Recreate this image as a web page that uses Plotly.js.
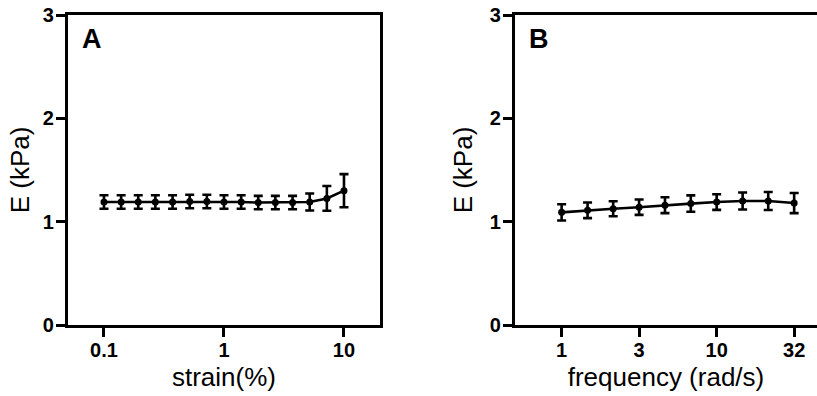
<!DOCTYPE html>
<html>
<head>
<meta charset="utf-8">
<script src="https://cdn.plot.ly/plotly-3.0.1.min.js"></script>
<style>html,body{margin:0;padding:0;overflow:hidden;background:#fff}</style>
</head>
<body>
<div id="chart" style="width:817px;height:396px"></div>
<script>
// Panel A: strain sweep
const strainX = [0.1, 0.139, 0.193, 0.268, 0.373, 0.518, 0.72, 1, 1.39, 1.93, 2.68, 3.73, 5.18, 7.2, 10];
const strainE = [1.19, 1.19, 1.19, 1.19, 1.19, 1.195, 1.195, 1.19, 1.19, 1.185, 1.185, 1.185, 1.19, 1.225, 1.30];
const strainErr = [0.065, 0.065, 0.065, 0.065, 0.065, 0.065, 0.065, 0.065, 0.065, 0.065, 0.065, 0.065, 0.082, 0.12, 0.16];
const strainTickVals = [0.1, 1, 10];
const strainTickText = ["0.1", "1", "10"];

// Panel B: frequency sweep
const freqX = [1, 1.47, 2.15, 3.16, 4.64, 6.81, 10, 14.7, 21.5, 31.6];
const freqE = [1.09, 1.11, 1.125, 1.14, 1.16, 1.175, 1.19, 1.20, 1.20, 1.18];
const freqErr = [0.079, 0.076, 0.073, 0.074, 0.077, 0.079, 0.076, 0.082, 0.087, 0.097];
const freqTickVals = [1, 3.162, 10, 31.62];
const freqTickText = ["1", "3", "10", "32"];

const yTickVals = [0, 1, 2, 3];
const yTickText = ["0", "1", "2", "3"];

const FONT = "Arial, 'Liberation Sans', sans-serif";

function series(x, y, err, xa, ya) {
  return {
    x: x, y: y, xaxis: xa, yaxis: ya,
    type: 'scatter', mode: 'lines+markers',
    line: {color: '#000', width: 2.6},
    marker: {color: '#000', size: 7},
    error_y: {type: 'data', array: err, visible: true, color: '#000', thickness: 2.6, width: 4.5},
    showlegend: false, hoverinfo: 'skip'
  };
}

const axisCommon = {
  showgrid: false, zeroline: false,
  showline: true, linecolor: '#000', linewidth: 3,
  ticks: 'outside', ticklen: 9, tickwidth: 3, tickcolor: '#000',
  tickfont: {family: FONT, size: 20, color: '#000', weight: 'bold'}
};

const TITLEFONT = {family: FONT, size: 26, color: '#000'};

const layout = {
  width: 817, height: 396,
  margin: {l: 0, r: 0, t: 15, b: 71},
  paper_bgcolor: '#fff', plot_bgcolor: '#fff',
  font: {family: FONT, color: '#000'},
  xaxis: Object.assign({}, axisCommon, {
    type: 'log', domain: [0.0832, 0.4651], range: [-1.3, 1.3],
    tickvals: strainTickVals, ticktext: strainTickText, mirror: true, anchor: 'y',
    ticklabelstandoff: -4,
    title: {text: 'strain(%)', font: TITLEFONT, standoff: 8}
  }),
  yaxis: Object.assign({}, axisCommon, {
    range: [0, 3], tickvals: yTickVals, ticktext: yTickText, mirror: true, anchor: 'x',
    ticklabelstandoff: -2,
    title: {text: 'E (kPa)', font: TITLEFONT, standoff: 6}
  }),
  xaxis2: Object.assign({}, axisCommon, {
    type: 'log', domain: [0.6303, 1], range: [-0.301, 1.647],
    tickvals: freqTickVals, ticktext: freqTickText, mirror: true, anchor: 'y2',
    ticklabelstandoff: -4,
    title: {text: 'frequency (rad/s)', font: TITLEFONT, standoff: 8}
  }),
  yaxis2: Object.assign({}, axisCommon, {
    range: [0, 3], tickvals: yTickVals, ticktext: yTickText, mirror: false, anchor: 'x2',
    ticklabelstandoff: -2,
    title: {text: 'E (kPa)', font: TITLEFONT, standoff: 10}
  }),
  annotations: [
    {text: 'A', xref: 'x domain', yref: 'y domain', x: 0.04, y: 0.923, xanchor: 'left', yanchor: 'middle',
     showarrow: false, font: {family: FONT, size: 27, color: '#000', weight: 'bold'}},
    {text: 'B', xref: 'x2 domain', yref: 'y2 domain', x: 0.04, y: 0.923, xanchor: 'left', yanchor: 'middle',
     showarrow: false, font: {family: FONT, size: 27, color: '#000', weight: 'bold'}}
  ]
};

Plotly.newPlot('chart', [
  series(strainX, strainE, strainErr, 'x', 'y'),
  series(freqX, freqE, freqErr, 'x2', 'y2')
], layout, {staticPlot: true, displayModeBar: false});
</script>
</body>
</html>
